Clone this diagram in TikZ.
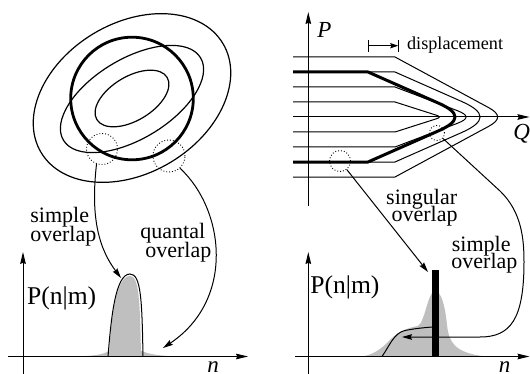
\documentclass[tikz,border=0pt]{standalone}
\usepackage{fontspec}
\setmainfont{Liberation Serif}
\usetikzlibrary{arrows.meta}
\begin{document}
\begin{tikzpicture}[x=0.5pt,y=-0.5pt,
  lbl/.style={font=\fontsize{11}{11}\selectfont, inner sep=0pt},
  pl/.style={font=\fontsize{12.8}{12.8}\selectfont, inner sep=0pt},
  axl/.style={font=\fontsize{11.5}{11.5}\selectfont\itshape, inner sep=0pt},
  displ/.style={font=\fontsize{9.1}{9.1}\selectfont, inner sep=0pt},
  ell/.style={line width=0.6pt},
  trj/.style={line width=0.5pt},
  trjthick/.style={line width=1.5pt, line join=round},
  gf/.style={fill=black!25},
  ax/.style={line width=0.5pt, -{Stealth[length=6pt,width=2.8pt,inset=0.6pt]}},
  conn/.style={line width=0.5pt, -{Stealth[length=5pt,width=2.8pt,inset=0.6pt]}},
  dotc/.style={circle, draw, densely dotted, line width=0.45pt, inner sep=0pt}]
\useasboundingbox (0,0) rectangle (530,374);

% ---------- left panel: phase-space contours ----------
\draw[ell, rotate around={31:(132,98)}] (132,98) ellipse [x radius=106, y radius=75];
\draw[ell, rotate around={31:(132,99)}] (132,99) ellipse [x radius=80, y radius=40];
\draw[ell, rotate around={31:(132,98.5)}] (132,98.5) ellipse [x radius=41, y radius=22];
\draw[line width=1.4pt] (132,98.5) circle [radius=61.3];
\node[dotc, minimum size=15.5pt] (c1) at (102,149) {};
\node[dotc, minimum size=16pt] (c2) at (169,156) {};

% ---------- left panel: distribution ----------
\fill[gf] (62,356.5) .. controls (92,356.5) and (102,355) .. (109,351) -- (142,351) .. controls (150,355) and (165,356.5) .. (190,356.5) -- cycle;
\fill[gf] (109,356.5) .. controls (111,318) and (116,276) .. (130,276) .. controls (139,276) and (140,300) .. (141,356.5) -- cycle;
\draw[trj] (108,356.5) .. controls (111,320) and (115,274) .. (130,274) .. controls (141,274) and (142,300) .. (143,356.5);
\draw[ax] (23,374) -- (23,252);
\draw[ax] (8,356.5) -- (248,356.5);
\node[pl, anchor=base west] (pl1) at (26.7,304) {P(n|m)};
\node[axl, anchor=base west] (ln1) at (207,372) {n};

% left connectors and labels
\coordinate (t1) at (121,278);
\coordinate (t2) at (163,348);
\draw[conn] (c1.250) .. controls (90,220) and (100,250) .. (t1);
\draw[conn] (c2.-48) .. controls (225,210) and (235,300) .. (t2);
\node[lbl, anchor=base west] (s1a) at (30,222.5) {simple};
\node[lbl, anchor=base west] (s1b) at (30,241) {overlap};
\node[lbl, anchor=base west] (q1a) at (140,238.5) {quantal};
\node[lbl, anchor=base west] (q1b) at (145,257) {overlap};

% ---------- right panel: trajectories ----------
\draw[ax] (308.3,206) -- (308.3,12);
\draw[ax] (293,117) -- (529.5,117);
\draw[trj] (293,57) -- (395,57) -- (488.4,107.5) .. controls (500.7,114.1) and (500.7,119.9) .. (488.4,126.5) -- (395,177) -- (293,177);
\draw[trj] (293,72) -- (395,72) -- (461.3,101.3) .. controls (486.3,112.3) and (486.3,121.7) .. (461.3,132.7) -- (395,162) -- (293,162);
\draw[trj] (293,87) -- (395,87) -- (457.2,110.6) .. controls (469,115.1) and (469,118.9) .. (457.2,123.4) -- (395,147) -- (293,147);
\draw[trj] (293,102) -- (395,102) -- (436.3,115.2) .. controls (440.3,116.45) and (440.3,117.55) .. (436.3,118.8) -- (395,132) -- (293,132);
\draw[trjthick] (293,72) -- (368,72) -- (438.4,103.1) .. controls (460.5,112.8) and (460.5,121.2) .. (438.4,130.9) -- (368,162) -- (293,162);
\node[axl, anchor=base west] (lp) at (317,38) {P};
\node[axl, anchor=base west] (lq) at (513,139.5) {Q};
% displacement marker
\coordinate (d1) at (368,45.7);
\coordinate (d2) at (398.3,45.7);
\draw[trj] ([yshift=-3pt]d1) -- ([yshift=3pt]d1);
\draw[trj] ([yshift=-3pt]d2) -- ([yshift=3pt]d2);
\draw[trj, -{Stealth[length=4pt,width=2.6pt,inset=0.5pt]}] (d1) -- (d2);
\node[displ, anchor=base west] (dl) at (406.7,49.3) {displacement};
\node[dotc, minimum size=10.5pt] (c3) at (340,161) {};
\node[dotc, minimum size=7.5pt] (c4) at (437,133) {};

% ---------- right panel: distribution ----------
\fill[gf] (362,356.5) .. controls (372,355) and (380,350) .. (388,342) .. controls (395,334) and (405,328) .. (418,326) .. controls (425,322) and (428,291) .. (435,291) .. controls (441,291) and (445,305) .. (447,325) .. controls (449,343) and (455,353) .. (486,356.5) -- cycle;
\draw[trj] (382,356.5) .. controls (390,345) and (394,333) .. (405,330.5) .. controls (415,328.5) and (425,327.5) .. (433,327);
\node[fill=black, inner sep=0pt, minimum width=3.5pt, minimum height=43.25pt, anchor=north west] (bar) at (432,270) {};
\draw[ax] (308.3,374) -- (308.3,252);
\draw[ax] (295,356.5) -- (529.5,356.5);
\node[pl, anchor=base west] (pl2) at (310,293.3) {P(n|m)};
\node[axl, anchor=base west] (ln2) at (498.5,372) {n};

% right connectors and labels
\coordinate (t3) at (428,272);
\coordinate (t4) at (402,337);
\draw[conn] (c3) -- (t3);
\draw[conn] (c4) -- (500,191) .. controls (522,212) and (524,240) .. (524,262) .. controls (524,320) and (510,337) .. (480,337) -- (t4);
\node[lbl, anchor=base east] (g1a) at (457.5,204) {singular};
\node[lbl, anchor=base east] (g1b) at (458,221.7) {overlap};
\node[lbl, anchor=base west] (s2a) at (451.5,251.7) {simple};
\node[lbl, anchor=base west] (s2b) at (451,268.3) {overlap};
\end{tikzpicture}
\end{document}
